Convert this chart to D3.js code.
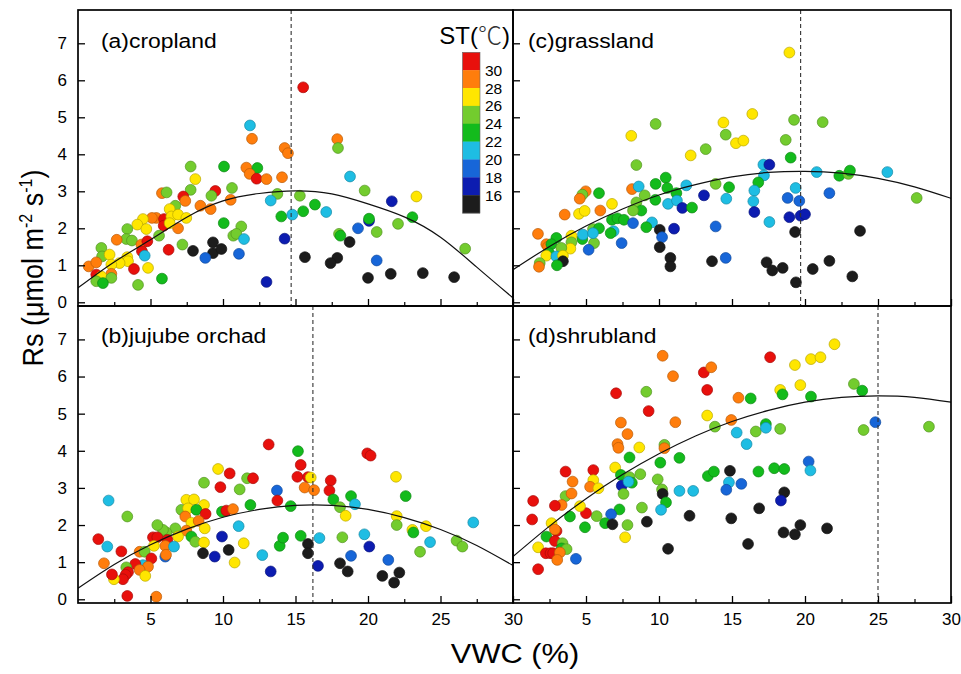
<!DOCTYPE html>
<html><head><meta charset="utf-8">
<script src="https://cdn.jsdelivr.net/npm/d3@7"></script>
<style>body{margin:0;background:#fff} svg{display:block} text{font-family:"Liberation Sans",Arial,sans-serif;fill:#000}</style>
</head><body><svg id="c" width="961" height="674"></svg>
<script>
// ---- data ----
const stBreaks = [16,18,20,22,24,26,28,30];
const stLabels = ["30","28","26","24","22","20","18","16"];
const stColors = ["#1c1c1c","#0c1cb0","#1766d8","#1ebde3","#13bb1c","#73cc2e","#ffe600","#ff7d0c","#e8100c"];
const xTicks = [5,10,15,20,25,30];
const xMinor = [2.5,7.5,12.5,17.5,22.5,27.5];
const yTicks = [0,1,2,3,4,5,6,7];
const curveX = [0,2.5,5,7.5,10,12.5,15,17.5,20,22.5,25,27.5,30];
const croplandCurve = [0.39,1.09,1.69,2.30,2.74,2.94,3.01,2.93,2.66,2.31,1.76,0.95,0.12];
const orchardCurve  = [0.30,0.94,1.47,1.89,2.21,2.42,2.53,2.53,2.42,2.20,1.88,1.45,0.91];
const grassCurve    = [0.88,1.51,2.06,2.52,2.90,3.18,3.39,3.51,3.54,3.49,3.35,3.12,2.81];
const shrubCurve    = [1.15,1.97,2.71,3.36,3.92,4.40,4.79,5.09,5.31,5.44,5.48,5.44,5.31];
const optimumVWC = {cropland:14.7, orchard:16.2, grassland:19.7, shrubland:25.0};
// [VWC %, Rs, ST °C]
const cropland = [[11.86,4.78,21],[12.0,4.42,29],[14.25,4.17,29],[14.48,4.03,29],[7.77,3.67,25],[10.07,3.67,23],[11.61,3.64,29],[12.37,3.63,23],[11.84,3.47,29],[12.32,3.34,31],[13.0,3.33,29],[14.07,3.38,29],[8.09,3.33,27],[5.79,2.95,29],[6.11,2.97,25],[7.77,3.04,25],[9.47,3.01,31],[9.2,2.88,25],[10.62,3.09,25],[7.26,2.86,31],[7.4,2.74,29],[6.71,2.61,25],[10.53,2.77,29],[8.44,2.61,29],[9.15,2.52,29],[13.75,2.93,25],[13.29,2.75,21],[14.02,2.32,23],[14.78,2.37,21],[6.32,2.52,27],[5.4,2.28,29],[5.1,2.28,29],[5.93,2.25,31],[5.91,2.07,31],[6.44,2.32,27],[6.9,2.37,27],[7.47,2.28,27],[6.9,2.0,29],[6.32,2.14,27],[4.48,2.25,27],[4.09,2.1,27],[4.71,1.98,27],[3.4,1.98,25],[3.33,1.71,25],[2.67,1.69,29],[3.72,1.67,25],[4.37,1.56,29],[4.78,1.65,31],[4.41,1.38,31],[4.6,1.26,21],[5.59,1.8,25],[10.05,2.14,23],[10.71,1.8,25],[11.26,2.05,25],[10.92,1.85,25],[11.45,1.71,21],[14.25,1.72,17],[7.2,1.56,25],[7.93,1.39,15],[9.31,1.62,15],[9.31,1.33,15],[9.89,1.44,15],[8.78,1.2,19],[11.1,1.31,19],[6.25,1.42,31],[1.61,1.47,25],[1.66,1.24,25],[2.18,1.29,27],[3.4,1.22,27],[3.45,1.11,27],[2.87,1.06,27],[2.3,1.02,27],[0.74,0.97,29],[1.26,1.08,29],[3.86,0.9,31],[4.83,0.93,27],[2.3,0.77,29],[1.26,0.75,31],[1.61,0.7,27],[2.3,0.66,25],[1.26,0.57,25],[1.72,0.52,23],[5.79,0.64,23],[4.14,0.47,25],[13.0,0.55,17],[15.53,5.81,31],[17.88,4.41,29],[17.93,4.17,25],[18.76,3.4,21],[19.77,3.02,25],[23.34,2.86,27],[21.64,2.73,17],[15.3,2.88,25],[15.53,2.46,23],[16.34,2.64,23],[17.12,2.44,21],[20.07,2.2,17],[20.07,2.26,23],[19.31,2.0,19],[20.6,1.9,25],[22.07,2.12,25],[23.06,2.3,23],[18.0,1.85,25],[18.1,1.8,23],[18.73,1.63,15],[15.65,1.22,15],[17.88,1.2,15],[17.42,1.06,15],[20.6,1.13,19],[20.0,0.66,15],[21.57,0.77,15],[23.78,0.79,15],[25.94,0.68,15],[26.7,1.45,25]];
const grassland = [[8.1,4.5,27],[8.45,3.71,25],[12.17,3.97,27],[13.2,4.14,25],[14.57,4.53,25],[9.77,4.82,25],[4.98,3.0,29],[4.75,2.91,25],[4.57,2.8,29],[5.89,2.95,23],[3.54,2.37,29],[4.52,2.39,27],[4.91,2.47,27],[5.98,2.48,29],[6.78,2.66,27],[8.15,3.06,29],[8.61,3.13,21],[9.02,2.89,25],[9.77,3.2,23],[10.46,3.37,23],[10.57,3.09,23],[11.19,2.95,23],[11.87,3.16,21],[9.75,2.77,23],[8.45,2.7,25],[8.79,2.48,23],[8.22,2.48,25],[10.62,2.66,21],[11.23,2.75,21],[11.6,2.55,17],[12.26,2.56,23],[13.08,2.89,17],[13.88,3.2,25],[14.61,2.8,21],[14.8,3.11,23],[6.78,2.23,23],[7.15,2.27,23],[7.6,2.23,23],[6.89,1.92,21],[6.69,1.87,23],[8.22,2.14,19],[9.52,2.16,21],[9.13,2.03,23],[10.05,1.96,15],[10.21,1.76,19],[10.05,1.49,15],[11.03,1.99,17],[10.78,1.2,15],[10.78,0.97,15],[13.63,1.11,15],[14.57,1.2,19],[13.88,2.05,19],[7.44,1.6,19],[5.48,1.98,25],[5.89,2.0,23],[5.55,1.6,25],[4.75,1.71,23],[4.79,1.83,21],[5.48,1.87,21],[5.18,1.42,19],[4.0,1.8,27],[4.0,1.62,25],[3.93,1.45,27],[2.97,1.74,23],[1.71,1.85,29],[2.28,1.57,29],[2.4,1.5,29],[2.63,1.57,23],[3.31,1.47,25],[2.47,1.33,23],[2.28,1.26,27],[2.97,1.24,21],[3.42,1.26,27],[3.42,1.11,15],[3.01,1.0,23],[1.83,1.06,25],[1.78,0.96,29],[18.93,6.75,27],[19.25,4.93,25],[21.21,4.87,25],[16.39,5.09,27],[14.41,4.86,27],[15.27,4.3,27],[15.78,4.37,27],[18.68,4.39,25],[19.02,3.91,23],[17.15,3.72,21],[17.56,3.72,17],[17.19,3.43,21],[16.8,3.24,23],[16.53,3.02,21],[16.46,2.73,21],[16.53,2.44,17],[17.56,2.17,21],[19.36,3.09,21],[18.81,2.82,19],[19.61,2.74,19],[18.93,2.3,17],[19.7,2.34,17],[20.0,2.38,17],[19.32,1.9,15],[19.38,0.54,15],[20.53,0.9,15],[21.67,1.12,15],[23.77,1.93,15],[23.24,0.7,15],[20.8,3.52,21],[22.35,3.42,23],[22.97,3.47,25],[23.08,3.56,23],[21.67,2.95,19],[25.64,3.52,21],[27.65,2.82,25],[17.37,1.08,15],[17.76,0.86,15],[18.47,0.93,15]];
const orchard = [[13.15,4.17,31],[15.17,3.99,23],[15.36,3.62,31],[15.13,3.3,31],[15.86,3.29,31],[16.05,3.28,27],[15.63,3.01,29],[16.28,2.94,29],[9.66,3.51,27],[10.46,3.39,31],[8.69,3.14,25],[9.82,3.02,31],[11.15,2.96,25],[11.66,3.26,25],[12.07,3.26,31],[13.72,2.93,19],[13.75,2.66,31],[14.67,2.51,23],[11.89,2.54,23],[9.93,2.36,23],[10.23,2.39,31],[10.69,2.43,29],[7.47,2.68,27],[8.0,2.69,27],[8.69,2.54,27],[7.13,2.41,25],[7.59,2.45,27],[8.16,2.41,23],[8.8,2.3,31],[7.4,2.23,29],[7.82,2.06,27],[8.32,2.11,29],[8.74,1.91,27],[7.47,1.85,29],[7.82,1.69,23],[8.09,1.55,25],[8.69,1.53,27],[6.71,1.91,25],[6.09,1.8,25],[5.86,1.87,25],[5.47,2.0,25],[6.9,1.69,27],[5.17,1.67,31],[5.47,1.67,31],[6.16,1.6,31],[6.02,1.44,29],[6.02,1.15,19],[6.07,1.2,29],[6.62,1.42,21],[5.24,1.44,27],[4.25,1.28,29],[4.6,1.28,25],[5.06,1.1,31],[4.48,0.92,21],[4.83,0.88,29],[3.95,0.95,31],[4.25,0.79,29],[4.64,0.63,27],[3.33,0.86,25],[3.45,0.73,31],[3.29,0.66,31],[3.1,0.54,31],[2.48,0.54,27],[2.34,0.67,31],[1.79,0.97,29],[1.4,1.62,31],[2.02,1.42,21],[2.99,1.29,31],[2.11,2.66,21],[3.4,2.23,25],[3.4,0.09,31],[5.4,0.07,29],[8.62,1.24,15],[9.93,1.69,17],[9.43,1.15,17],[10.39,1.33,15],[10.8,0.99,27],[11.43,1.51,27],[11.08,1.97,21],[12.71,1.19,21],[13.29,0.75,17],[13.91,1.44,23],[14.14,1.66,23],[15.36,1.71,23],[15.86,1.49,15],[15.86,1.24,15],[16.55,0.9,17],[16.65,1.65,21],[19.95,3.93,31],[20.18,3.87,31],[17.43,3.2,31],[17.34,2.93,31],[17.61,2.69,23],[18.07,2.48,25],[18.46,2.25,27],[18.83,2.78,23],[19.1,2.56,21],[21.93,3.3,27],[22.6,2.78,23],[21.98,2.24,27],[21.98,2.0,25],[23.06,1.87,27],[23.13,1.8,23],[24.0,1.97,27],[27.26,2.07,21],[24.28,1.54,21],[23.59,1.28,25],[26.11,1.58,25],[26.51,1.42,25],[18.23,1.67,25],[19.75,1.75,21],[20.09,1.42,17],[18.83,1.17,19],[21.4,1.06,19],[18.07,0.97,15],[18.6,0.75,15],[20.99,0.63,15],[21.8,0.45,15],[22.16,0.72,15]];
const shrubland = [[10.25,6.56,29],[10.96,6.01,29],[13.07,6.11,31],[13.58,6.25,29],[13.3,5.64,31],[7.06,5.55,31],[9.13,5.59,25],[9.29,5.07,31],[11.12,4.77,29],[13.3,4.95,27],[13.83,4.65,25],[14.95,4.83,29],[7.39,4.76,29],[7.84,4.45,29],[7.16,4.18,29],[7.22,4.08,29],[8.65,4.09,27],[10.37,4.16,25],[10.37,4.07,29],[7.98,3.82,23],[11.4,3.81,23],[10.09,3.68,23],[7.0,3.55,27],[7.39,3.35,23],[7.98,3.29,25],[8.14,3.14,23],[7.45,3.06,17],[7.91,3.17,21],[7.57,2.84,25],[8.72,3.37,25],[9.91,3.23,25],[10.21,2.96,25],[10.25,2.84,15],[10.48,2.61,23],[10.14,2.41,21],[8.83,2.47,25],[7.29,2.42,23],[6.72,2.29,19],[6.31,2.05,23],[6.81,2.02,15],[7.84,2.0,25],[7.68,1.67,27],[9.17,2.09,15],[11.4,2.92,21],[12.34,2.92,21],[12.09,2.25,15],[10.62,1.36,15],[13.35,3.32,23],[13.76,3.44,23],[14.86,3.46,15],[14.79,3.15,21],[14.61,2.95,19],[14.95,2.18,15],[5.73,2.24,25],[4.93,1.94,23],[5.0,2.32,31],[3.9,2.23,23],[4.59,2.51,27],[3.6,2.78,25],[4.01,2.85,29],[4.08,3.17,29],[3.6,3.44,31],[5.5,3.48,31],[5.5,3.21,27],[5.28,3.03,29],[5.85,2.99,27],[3.33,2.54,29],[2.87,2.52,31],[1.38,2.65,31],[1.31,2.15,31],[2.64,2.05,27],[2.98,1.84,31],[2.87,1.88,29],[2.29,1.69,23],[2.87,1.57,31],[3.39,1.51,25],[3.33,1.37,23],[3.67,1.35,25],[1.72,1.4,27],[2.25,1.24,31],[2.57,1.24,31],[2.75,1.24,31],[3.21,1.26,29],[3.03,1.06,29],[1.72,0.81,31],[4.31,1.09,19],[17.61,6.52,31],[19.31,6.31,27],[20.41,6.47,27],[21.06,6.52,27],[22.02,6.87,27],[18.3,5.64,27],[18.46,5.52,23],[19.68,5.77,27],[20.41,5.46,23],[23.35,5.8,25],[23.92,5.62,23],[24.01,4.56,25],[24.82,4.77,19],[28.49,4.65,25],[16.28,5.41,23],[15.44,5.43,29],[15.32,4.49,21],[16.0,4.18,21],[16.63,4.52,25],[17.32,4.72,23],[17.32,4.62,21],[18.3,4.59,25],[16.81,3.44,23],[17.89,3.53,23],[18.58,3.51,23],[20.25,3.71,19],[20.37,3.47,21],[15.64,3.11,19],[16.86,2.45,15],[16.1,1.49,15],[18.53,1.8,15],[19.31,1.75,15],[19.68,2.0,15],[21.51,1.91,15],[18.58,2.88,15],[18.35,2.66,17]];

// ---- drawing ----
const svg = d3.select("#c");
const color = d3.scaleThreshold().domain(stBreaks).range(stColors);
const FONT = "Liberation Sans, Arial, sans-serif";

const panels = [
  {label:"(a)cropland", data:cropland, curve:croplandCurve, opt:optimumVWC.cropland, x0:78, x1:513, y0:10, y1:306, left:true, bottom:false, lx:101, ly:48},
  {label:"(c)grassland", data:grassland, curve:grassCurve, opt:optimumVWC.grassland, x0:513, x1:951, y0:10, y1:306, left:false, bottom:false, lx:528, ly:48},
  {label:"(b)jujube orchad", data:orchard, curve:orchardCurve, opt:optimumVWC.orchard, x0:78, x1:513, y0:306, y1:603, left:true, bottom:true, lx:101, ly:343},
  {label:"(d)shrubland", data:shrubland, curve:shrubCurve, opt:optimumVWC.shrubland, x0:513, x1:951, y0:306, y1:603, left:false, bottom:true, lx:528, ly:343}
];

panels.forEach((p,i) => {
  const x = d3.scaleLinear().domain([0,30]).range([p.x0,p.x1]);
  const y = d3.scaleLinear().domain([-0.1,7.9]).range([p.y1,p.y0]);
  const g = svg.append("g");
  const clipId = "clip"+i;
  svg.append("clipPath").attr("id",clipId).append("rect")
    .attr("x",p.x0).attr("y",p.y0).attr("width",p.x1-p.x0).attr("height",p.y1-p.y0);
  const inner = g.append("g").attr("clip-path",`url(#${clipId})`);

  inner.selectAll("circle").data(p.data).join("circle")
    .attr("cx",d=>x(d[0])).attr("cy",d=>y(d[1])).attr("r",5.4)
    .attr("fill",d=>color(d[2]))
    .attr("stroke",d=>d3.color(color(d[2])).darker(0.9))
    .attr("stroke-width",0.7);

  const line = d3.line().x((d,j)=>x(curveX[j])).y(d=>y(d)).curve(d3.curveNatural);
  inner.append("path").datum(p.curve).attr("d",line)
    .attr("fill","none").attr("stroke","#111").attr("stroke-width",1.2);

  inner.append("line").attr("x1",x(p.opt)).attr("x2",x(p.opt)).attr("y1",p.y0).attr("y2",p.y1)
    .attr("stroke","#333").attr("stroke-width",1.1).attr("stroke-dasharray","4,3");

  const ya = g.append("g").attr("transform",`translate(${p.x0},0)`)
    .call(d3.axisLeft(y).tickValues(yTicks).tickSize(-7).tickPadding(11).tickFormat(p.left?d3.format("d"):""));
  ya.select(".domain").remove();
  ya.selectAll("line").attr("stroke","#000").attr("stroke-width",1.3);
  ya.selectAll("text").attr("font-size",17).attr("font-family",FONT);

  const xa = g.append("g").attr("transform",`translate(0,${p.y1})`)
    .call(d3.axisBottom(x).tickValues(xTicks).tickSize(-7).tickPadding(10).tickFormat(p.bottom?d3.format("d"):""));
  xa.select(".domain").remove();
  xa.selectAll("line").attr("stroke","#000").attr("stroke-width",1.3);
  xa.selectAll("text").attr("font-size",17).attr("font-family",FONT);
  const xm = g.append("g").attr("transform",`translate(0,${p.y1})`)
    .call(d3.axisBottom(x).tickValues(xMinor).tickSize(-4).tickFormat(""));
  xm.select(".domain").remove();
  xm.selectAll("line").attr("stroke","#000").attr("stroke-width",1.2);

  g.append("rect").attr("x",p.x0).attr("y",p.y0).attr("width",p.x1-p.x0).attr("height",p.y1-p.y0)
    .attr("fill","none").attr("stroke","#000").attr("stroke-width",1.7);

  g.append("text").attr("transform",`translate(${p.lx},${p.ly}) scale(1.09,1)`)
    .attr("font-size",21).text(p.label);
});

// legend
const lg = svg.append("g");
const lx = 462.5, ly0 = 52.3, bh = 17.86, bw = 17.5;
const bins = stColors.slice().reverse();
lg.selectAll("rect.bin").data(bins).join("rect").attr("class","bin")
  .attr("x",lx).attr("y",(d,i)=>ly0+i*bh).attr("width",bw).attr("height",bh+0.3).attr("fill",d=>d);
lg.append("rect").attr("x",lx).attr("y",ly0).attr("width",bw).attr("height",bh*9)
  .attr("fill","none").attr("stroke","#666").attr("stroke-width",0.6);
lg.selectAll("text.lab").data(stLabels).join("text").attr("class","lab")
  .attr("x",lx+bw+5).attr("y",(d,i)=>ly0+(i+1)*bh).attr("dy","0.36em")
  .attr("font-size",15.5).text(d=>d);
const st = lg.append("text").attr("x",510).attr("y",44).attr("text-anchor","end").attr("font-size",24);
st.append("tspan").text("ST(");
st.append("tspan").attr("font-family","Noto Sans CJK SC").attr("font-weight",300).attr("fill","#333").text("℃");
st.append("tspan").text(")");

// axis titles
const yt = svg.append("text").attr("transform","translate(43,268) rotate(-90) scale(1,1.1)")
  .attr("text-anchor","middle").attr("font-size",27);
yt.append("tspan").text("Rs (μmol m");
yt.append("tspan").attr("dy",-10).attr("font-size",16).text("-2");
yt.append("tspan").attr("dy",10).text(" s");
yt.append("tspan").attr("dy",-10).attr("font-size",16).text("-1");
yt.append("tspan").attr("dy",10).text(")");
svg.append("text").attr("transform","translate(515,663) scale(1.1,1)").attr("text-anchor","middle")
  .attr("font-size",28).text("VWC (%)");
</script></body></html>
